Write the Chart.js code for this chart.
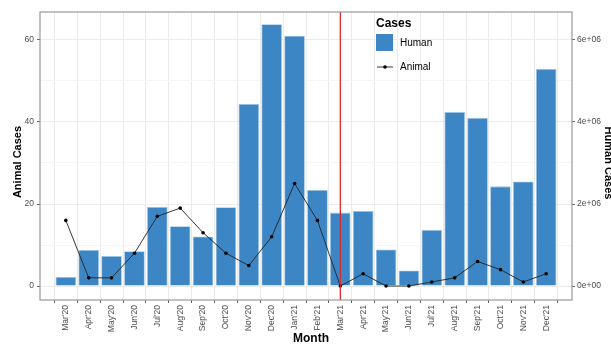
<!DOCTYPE html>
<html>
<head>
<meta charset="utf-8">
<script src="https://cdn.jsdelivr.net/npm/chart.js@4/dist/chart.umd.min.js"></script>
<style>
  html, body { margin: 0; padding: 0; background: #ffffff; }
  #wrap { width: 611px; height: 346px; }
</style>
</head>
<body>
<div id="wrap"><canvas id="c" width="611" height="346"></canvas></div>
<script>
// Monthly cases, March 2020 to December 2021
const months = ["Mar'20","Apr'20","May'20","Jun'20","Jul'20","Aug'20","Sep'20","Oct'20","Nov'20","Dec'20","Jan'21","Feb'21",
                "Mar'21","Apr'21","May'21","Jun'21","Jul'21","Aug'21","Sep'21","Oct'21","Nov'21","Dec'21"];
const humanCases = [220000, 880000, 730000, 850000, 1930000, 1460000, 1210000, 1920000, 4440000, 6380000, 6100000, 2340000,
                    1790000, 1830000, 890000, 380000, 1370000, 4240000, 4100000, 2430000, 2550000, 5290000];
const animalCases = [16, 2, 2, 8, 17, 19, 13, 8, 5, 12, 25, 16, 0, 3, 0, 0, 1, 2, 6, 4, 1, 3];
const animalTicks = [0, 20, 40, 60];
const animalMinor = [10, 30, 50];
const humanTicks = [0, 2000000, 4000000, 6000000];
const markerMonth = "Mar'21";

const HUMAN_PER_ANIMAL = 100000;   // secondary axis scale factor
const Y_MIN = -3.4, Y_MAX = 66.8;
const BAR_COLOR = '#3d86c6';
const GRID = '#ebebeb';
const TICK_TEXT = '#4d4d4d';
const FONT = "'Liberation Sans', Arial, sans-serif";

const sciLabel = v => {
  if (v === 0) return '0e+00';
  const e = Math.floor(Math.log10(v));
  const m = v / Math.pow(10, e);
  return m + 'e+' + String(e).padStart(2, '0');
};

const overlay = {
  id: 'overlay',
  afterDatasetsDraw(chart) {
    const { ctx, chartArea: a, scales } = chart;
    ctx.save();
    // vertical marker
    const mx = scales.x.getPixelForValue(months.indexOf(markerMonth));
    ctx.strokeStyle = '#e0262b';
    ctx.lineWidth = 1.3;
    ctx.beginPath();
    ctx.moveTo(mx, a.top);
    ctx.lineTo(mx, a.bottom);
    ctx.stroke();
    // panel border
    ctx.strokeStyle = '#999999';
    ctx.lineWidth = 1.2;
    ctx.strokeRect(a.left, a.top, a.right - a.left, a.bottom - a.top);

    // legend
    ctx.fillStyle = '#000';
    ctx.textBaseline = 'middle';
    ctx.textAlign = 'left';
    ctx.font = 'bold 12px ' + FONT;
    ctx.fillText('Cases', 376, 24);
    ctx.fillStyle = BAR_COLOR;
    ctx.fillRect(376, 34, 17, 17);
    ctx.fillStyle = '#000';
    ctx.font = '10px ' + FONT;
    ctx.fillText('Human', 400, 43.5);
    ctx.strokeStyle = '#222';
    ctx.lineWidth = 0.9;
    ctx.beginPath();
    ctx.moveTo(377, 67);
    ctx.lineTo(393, 67);
    ctx.stroke();
    ctx.beginPath();
    ctx.arc(385, 67, 1.8, 0, Math.PI * 2);
    ctx.fill();
    ctx.fillText('Animal', 400, 67);

    // axis titles
    ctx.textAlign = 'center';
    ctx.font = 'bold 12px ' + FONT;
    ctx.fillText('Month', 311, 339);
    ctx.font = 'bold 11px ' + FONT;
    ctx.save();
    ctx.translate(17.5, 162);
    ctx.rotate(-Math.PI / 2);
    ctx.fillText('Animal Cases', 0, 0);
    ctx.restore();
    ctx.save();
    ctx.translate(608, 163);
    ctx.rotate(Math.PI / 2);
    ctx.fillText('Human Cases', 0, 0);
    ctx.restore();
    ctx.restore();
  }
};

new Chart(document.getElementById('c'), {
  data: {
    datasets: [
      {
        type: 'line',
        label: 'Animal',
        data: animalCases.map((v, i) => ({ x: i, y: v })),
        xAxisID: 'x',
        yAxisID: 'y',
        borderColor: '#222222',
        borderWidth: 0.9,
        pointRadius: 1.8,
        pointBackgroundColor: '#000000',
        pointBorderWidth: 0,
        tension: 0,
        order: 0
      },
      {
        type: 'bar',
        label: 'Human',
        data: humanCases.map((v, i) => ({ x: i, y: v })),
        xAxisID: 'x',
        yAxisID: 'yHuman',
        backgroundColor: BAR_COLOR,
        borderColor: '#9cc3e4',
        borderWidth: 0.8,
        barPercentage: 0.9,
        categoryPercentage: 1,
        order: 1
      }
    ]
  },
  options: {
    responsive: false,
    animation: false,
    layout: { padding: { top: 12, left: 0, right: 0, bottom: 0 } },
    plugins: { legend: { display: false }, tooltip: { enabled: false } },
    scales: {
      x: {
        type: 'linear',
        position: 'bottom',
        min: -0.6,
        max: months.length - 1 + 0.6,
        afterBuildTicks: s => { s.ticks = months.map((m, i) => ({ value: i })); },
        afterFit: s => { s.height = 46; },
        ticks: {
          autoSkip: false,
          minRotation: 90,
          maxRotation: 90,
          padding: 2,
          color: TICK_TEXT,
          font: { family: FONT, size: 8.5 },
          callback: v => months[v]
        },
        grid: { color: GRID, lineWidth: 1, tickLength: 3, tickColor: '#666', drawOnChartArea: true },
        border: { display: false }
      },
      y: {
        type: 'linear',
        position: 'left',
        min: Y_MIN,
        max: Y_MAX,
        afterBuildTicks: s => {
          s.ticks = animalTicks.concat(animalMinor).sort((a, b) => a - b).map(v => ({ value: v }));
        },
        afterFit: s => { s.width = 40; },
        ticks: {
          padding: 3,
          color: TICK_TEXT,
          font: { family: FONT, size: 8.5 },
          callback: v => animalTicks.includes(v) ? String(v) : ''
        },
        grid: {
          color: c => animalTicks.includes(c.tick.value) ? GRID : '#f5f5f5',
          lineWidth: 1,
          tickLength: 3,
          tickColor: c => animalTicks.includes(c.tick.value) ? '#666' : 'rgba(0,0,0,0)'
        },
        border: { display: false }
      },
      yHuman: {
        type: 'linear',
        position: 'right',
        min: Y_MIN * HUMAN_PER_ANIMAL,
        max: Y_MAX * HUMAN_PER_ANIMAL,
        afterBuildTicks: s => { s.ticks = humanTicks.map(v => ({ value: v })); },
        afterFit: s => { s.width = 39; },
        ticks: {
          padding: 2,
          color: TICK_TEXT,
          font: { family: FONT, size: 8.5 },
          callback: v => sciLabel(v)
        },
        grid: { drawOnChartArea: false, tickLength: 3, tickColor: '#666' },
        border: { display: false }
      }
    }
  },
  plugins: [overlay]
});
</script>
</body>
</html>
